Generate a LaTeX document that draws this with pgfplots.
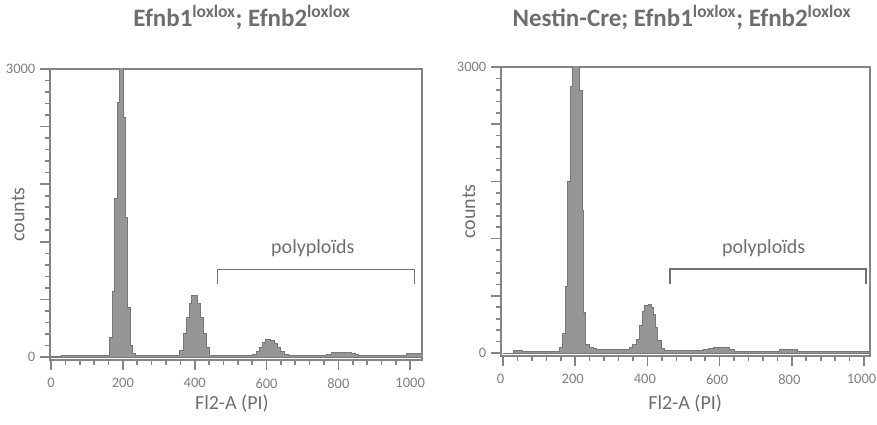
\documentclass[border=0pt]{standalone}
\usepackage{pgfplots}
\pgfplotsset{compat=1.18}
\usepackage{fontspec}
\setmainfont{Carlito}
\definecolor{txt}{HTML}{6E6E6E}
\definecolor{ticktxt}{HTML}{808080}
\definecolor{axline}{HTML}{858585}
\definecolor{histfill}{HTML}{969696}
\definecolor{histline}{HTML}{777777}
\definecolor{brk}{HTML}{707070}

\pgfplotstableread{
x y
0 5
30 20
164 200
171 680
178 1650
184 2650
190 3400
202 2500
208 1450
214 520
220 120
227 40
234 20
359 70
368 240
378 415
385 555
392 640
401 645
409 555
416 415
424 240
433 100
442 20
562 30
571 60
580 100
589 150
598 180
612 175
621 140
630 100
639 60
650 30
661 15
768 30
780 50
836 40
848 25
856 15
990 40
1033 40
}\lefttable

\pgfplotstableread{
x y
0 0
28 30
55 20
157 60
166 200
174 700
180 1800
187 2800
193 3400
212 2750
219 1500
224 420
229 90
240 60
250 45
259 40
351 60
360 90
369 140
379 290
386 440
392 500
402 510
411 480
417 400
423 270
429 130
439 50
448 25
554 40
568 50
582 60
614 55
628 35
642 20
766 35
817 20
1017 20
}\righttable

\pgfplotsset{
 flowstyle/.style={
  scale only axis,
  axis line style={draw=axline, line width=1.8bp},
  every tick/.style={draw=axline, line width=1.6bp},
  tick align=outside,
  tick pos=left,
  major tick length=10bp,
  minor tick length=5bp,
  xtick={0,200,...,1000},
  minor x tick num=4,
  ytick={0,600,...,3000},
  yticklabels={0,,,,,3000},
  minor y tick num=4,
  ymin=-31, ymax=3000,
  tick label style={font=\fontsize{14.5bp}{17bp}\selectfont, text=ticktxt, inner xsep=0.5bp},
  xticklabel style={yshift=-5bp},
  yticklabel style={xshift=-4bp},
  /pgf/number format/assume math mode=true,
  /pgf/number format/1000 sep={},
  label style={font=\fontsize{20bp}{24bp}\selectfont, text=txt},
  xlabel={Fl2-A (PI)},
  ylabel={counts},
  title style={font=\bfseries\fontsize{25bp}{30bp}\selectfont, text=txt, anchor=base},
 }
}

\begin{document}
\begin{tikzpicture}
\useasboundingbox (0,0) rectangle (877bp,425bp);
\begin{axis}[flowstyle,
  at={(50bp,65bp)}, anchor=south west, width=372bp, height=291bp,
  xmin=-3, xmax=1033,
  title={Efnb1\textsuperscript{loxlox}; Efnb2\textsuperscript{loxlox}},
  title style={at={(axis description cs:0.516,1)}, yshift=37bp},
  xlabel style={at={(axis description cs:0.489,-0.151)}, anchor=center},
  ylabel style={at={(axis description cs:-0.086,0.5)}, anchor=center},
]
\addplot[const plot mark left, fill=histfill, draw=histline, line width=1bp] table[x=x,y=y]{\lefttable} \closedcycle;
\addplot[brk, line width=1.6bp] coordinates {(463,758) (463,911) (1012,911) (1012,758)};
\node[font=\fontsize{20bp}{24bp}\selectfont, text=txt] at (axis cs:729,1130) {polyploïds};
\end{axis}
\begin{axis}[flowstyle,
  at={(501bp,69bp)}, anchor=south west, width=369bp, height=289bp,
  xmin=-5.5, xmax=1016.5,
  title={Nestin-Cre; Efnb1\textsuperscript{loxlox}; Efnb2\textsuperscript{loxlox}},
  title style={at={(axis description cs:0.49,1)}, yshift=35bp},
  xlabel style={at={(axis description cs:0.499,-0.166)}, anchor=center},
  ylabel style={at={(axis description cs:-0.087,0.5)}, anchor=center},
  xticklabel style={xshift=-2.5bp},
]
\addplot[const plot mark left, fill=histfill, draw=histline, line width=1bp] table[x=x,y=y]{\righttable} \closedcycle;
\addplot[brk, line width=1.6bp] coordinates {(462,725) (462,879) (1006,879) (1006,725)};
\node[font=\fontsize{20bp}{24bp}\selectfont, text=txt] at (axis cs:722,1099) {polyploïds};
\end{axis}
\end{tikzpicture}
\end{document}
